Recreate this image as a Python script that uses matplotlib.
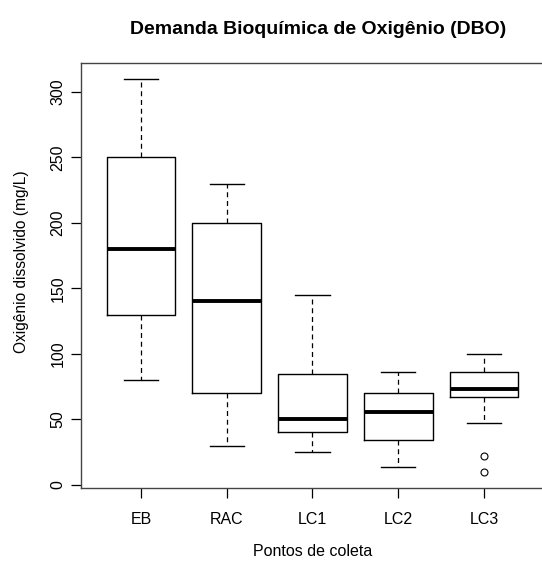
import matplotlib
matplotlib.use("Agg")
import matplotlib.pyplot as plt

# ── Data ───────────────────────────────────────────────────────────────────
pontos = ["EB", "RAC", "LC1", "LC2", "LC3"]
whisk_low = [80, 30, 25, 14, 47]
q1 = [130, 70, 40, 34, 67]
mediana = [180, 140, 50, 56, 73]
q3 = [250, 200, 85, 70, 86]
whisk_high = [310, 230, 145, 86, 100]
outliers = [[], [], [], [], [22, 10]]

plt.rcParams["font.family"] = ["Liberation Sans", "DejaVu Sans"]

fig = plt.figure(figsize=(5.42, 5.61), dpi=100)
ax = fig.add_axes([81 / 542, 73.5 / 561, 463 / 542, 424.5 / 561])

stats = []
for i, nome in enumerate(pontos):
    stats.append(dict(label=nome, whislo=whisk_low[i], q1=q1[i], med=mediana[i],
                      q3=q3[i], whishi=whisk_high[i], fliers=outliers[i]))

ax.bxp(stats, positions=range(1, len(pontos) + 1), widths=0.8,
       showfliers=True,
       boxprops=dict(color="black", linewidth=1.0),
       medianprops=dict(color="black", linewidth=2.8, solid_capstyle="butt"),
       whiskerprops=dict(color="black", linewidth=0.9, linestyle=(0, (4, 3))),
       capprops=dict(color="black", linewidth=1.0),
       capwidths=0.4,
       flierprops=dict(marker="o", markerfacecolor="none", markeredgecolor="black",
                       markersize=5, markeredgewidth=0.8))

ax.set_xlim(0.3, 5.7)
ax.set_ylim(-2, 322)
ax.set_yticks([0, 50, 100, 150, 200, 250, 300])
ax.set_yticklabels(["0", "50", "100", "150", "200", "250", "300"],
                   rotation=90, va="center")
ax.tick_params(axis="both", labelsize=11.5, length=7, width=0.9, direction="out")
ax.tick_params(axis="x", pad=11)
ax.tick_params(axis="y", pad=4)

for s in ax.spines.values():
    s.set_linewidth(1.0)
    s.set_color("#444444")

ax.set_xlabel("Pontos de coleta", fontsize=11.5, labelpad=12)
ax.set_ylabel("Oxigênio dissolvido (mg/L)", fontsize=11.2)
ax.yaxis.set_label_coords(-0.112, 0.531)
fig.text(318 / 542, 1 - 30 / 561, "Demanda Bioquímica de Oxigênio (DBO)",
         ha="center", va="center", fontsize=14, fontweight="bold")

fig.savefig("out.png", dpi=100)
